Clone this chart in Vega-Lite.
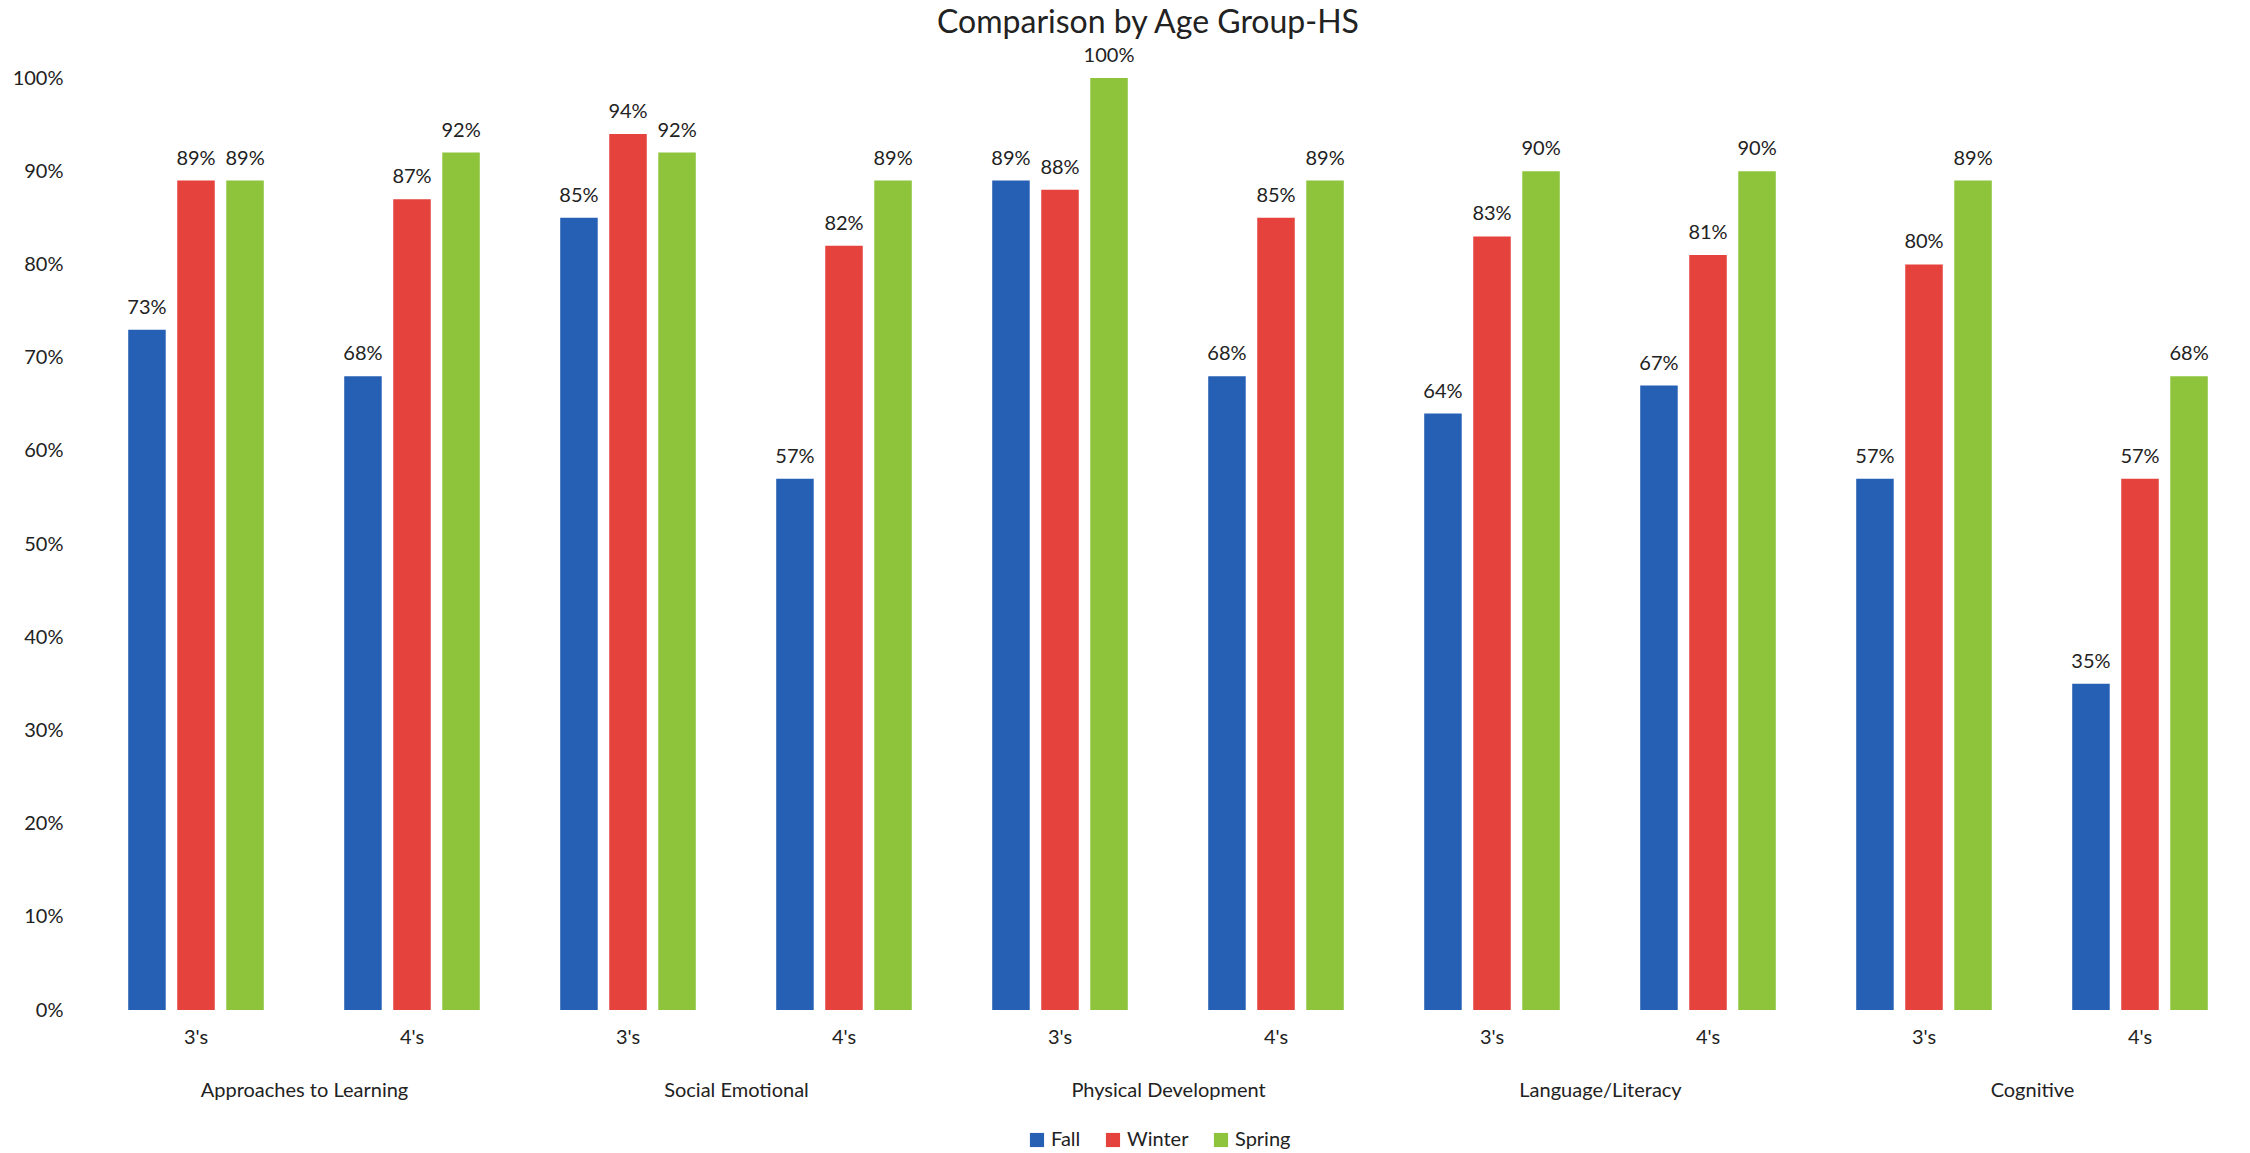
{
  "$schema": "https://vega.github.io/schema/vega-lite/v6.json",
  "autosize": {"type": "none"},
  "width": 2160,
  "height": 932,
  "padding": {"left": 88, "top": 78, "right": 2, "bottom": 143},
  "background": "white",
  "title": {
    "text": "Comparison by Age Group-HS",
    "font": "Lato",
    "fontSize": 32,
    "fontWeight": "normal",
    "color": "#222222",
    "frame": "group",
    "offset": 6,
    "dx": -20
  },
  "config": {
    "view": {"stroke": null},
    "font": "Lato",
    "axis": {"labelFont": "Lato", "labelColor": "#222222", "grid": false, "ticks": false, "domain": false, "labelLimit": 0}
  },
  "data": {
    "values": [
      {"domain": "Approaches to Learning", "group": "Approaches to Learning 3's", "season": "Fall", "value": 0.73},
      {"domain": "Approaches to Learning", "group": "Approaches to Learning 3's", "season": "Winter", "value": 0.89},
      {"domain": "Approaches to Learning", "group": "Approaches to Learning 3's", "season": "Spring", "value": 0.89},
      {"domain": "Approaches to Learning", "group": "Approaches to Learning 4's", "season": "Fall", "value": 0.68},
      {"domain": "Approaches to Learning", "group": "Approaches to Learning 4's", "season": "Winter", "value": 0.87},
      {"domain": "Approaches to Learning", "group": "Approaches to Learning 4's", "season": "Spring", "value": 0.92},
      {"domain": "Social Emotional", "group": "Social Emotional 3's", "season": "Fall", "value": 0.85},
      {"domain": "Social Emotional", "group": "Social Emotional 3's", "season": "Winter", "value": 0.94},
      {"domain": "Social Emotional", "group": "Social Emotional 3's", "season": "Spring", "value": 0.92},
      {"domain": "Social Emotional", "group": "Social Emotional 4's", "season": "Fall", "value": 0.57},
      {"domain": "Social Emotional", "group": "Social Emotional 4's", "season": "Winter", "value": 0.82},
      {"domain": "Social Emotional", "group": "Social Emotional 4's", "season": "Spring", "value": 0.89},
      {"domain": "Physical Development", "group": "Physical Development 3's", "season": "Fall", "value": 0.89},
      {"domain": "Physical Development", "group": "Physical Development 3's", "season": "Winter", "value": 0.88},
      {"domain": "Physical Development", "group": "Physical Development 3's", "season": "Spring", "value": 1.0},
      {"domain": "Physical Development", "group": "Physical Development 4's", "season": "Fall", "value": 0.68},
      {"domain": "Physical Development", "group": "Physical Development 4's", "season": "Winter", "value": 0.85},
      {"domain": "Physical Development", "group": "Physical Development 4's", "season": "Spring", "value": 0.89},
      {"domain": "Language/Literacy", "group": "Language/Literacy 3's", "season": "Fall", "value": 0.64},
      {"domain": "Language/Literacy", "group": "Language/Literacy 3's", "season": "Winter", "value": 0.83},
      {"domain": "Language/Literacy", "group": "Language/Literacy 3's", "season": "Spring", "value": 0.90},
      {"domain": "Language/Literacy", "group": "Language/Literacy 4's", "season": "Fall", "value": 0.67},
      {"domain": "Language/Literacy", "group": "Language/Literacy 4's", "season": "Winter", "value": 0.81},
      {"domain": "Language/Literacy", "group": "Language/Literacy 4's", "season": "Spring", "value": 0.90},
      {"domain": "Cognitive", "group": "Cognitive 3's", "season": "Fall", "value": 0.57},
      {"domain": "Cognitive", "group": "Cognitive 3's", "season": "Winter", "value": 0.80},
      {"domain": "Cognitive", "group": "Cognitive 3's", "season": "Spring", "value": 0.89},
      {"domain": "Cognitive", "group": "Cognitive 4's", "season": "Fall", "value": 0.35},
      {"domain": "Cognitive", "group": "Cognitive 4's", "season": "Winter", "value": 0.57},
      {"domain": "Cognitive", "group": "Cognitive 4's", "season": "Spring", "value": 0.68}
    ]
  },
  "layer": [
    {
      "encoding": {
        "x": {
          "field": "group",
          "type": "nominal",
          "sort": null,
          "scale": {"paddingInner": 0, "paddingOuter": 0},
          "axis": {"title": null, "labelExpr": "slice(datum.label, -3)", "labelAngle": 0, "labelFontSize": 20, "labelPadding": 17}
        },
        "xOffset": {
          "field": "season",
          "type": "nominal",
          "sort": ["Fall", "Winter", "Spring"],
          "scale": {"paddingInner": 0.235, "paddingOuter": 0.82}
        },
        "y": {
          "field": "value",
          "type": "quantitative",
          "scale": {"domain": [0, 1], "nice": false},
          "axis": {"title": null, "format": ".0%", "values": [0, 0.1, 0.2, 0.3, 0.4, 0.5, 0.6, 0.7, 0.8, 0.9, 1.0], "labelFontSize": 20, "labelPadding": 25}
        }
      },
      "layer": [
        {
          "mark": {"type": "bar"},
          "encoding": {
            "color": {
              "field": "season",
              "type": "nominal",
              "sort": ["Fall", "Winter", "Spring"],
              "scale": {"domain": ["Fall", "Winter", "Spring"], "range": ["#2660b5", "#e5413d", "#8dc43c"]},
              "legend": {
                "title": null,
                "orient": "none",
                "legendX": 939,
                "legendY": 1052,
                "direction": "horizontal",
                "symbolType": "square",
                "symbolSize": 200,
                "symbolStrokeWidth": 0,
                "labelFontSize": 20,
                "labelColor": "#222222",
                "columnPadding": 22
              }
            }
          }
        },
        {
          "mark": {"type": "text", "baseline": "alphabetic", "dy": -16, "fontSize": 20, "color": "#222222"},
          "encoding": {
            "text": {"field": "value", "type": "quantitative", "format": ".0%"}
          }
        }
      ]
    },
    {
      "mark": {"type": "text", "opacity": 0},
      "encoding": {
        "x": {
          "field": "domain",
          "type": "nominal",
          "sort": null,
          "scale": {"paddingInner": 0, "paddingOuter": 0},
          "axis": {"title": null, "orient": "bottom", "labelAngle": 0, "labelFontSize": 20, "labelPadding": 8, "offset": 62}
        },
        "text": {"value": ""}
      }
    }
  ],
  "resolve": {"scale": {"x": "independent"}, "axis": {"x": "independent"}}
}
